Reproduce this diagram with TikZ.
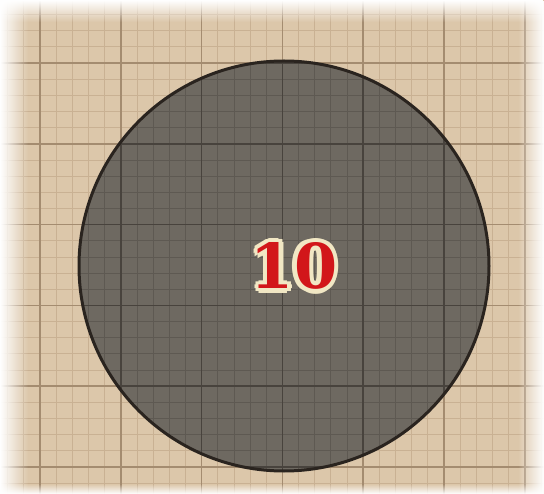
\documentclass[tikz,border=0pt]{standalone}
\usepackage{fontspec}
\newfontfamily\numfont{DejaVu Serif Bold}
\usetikzlibrary{fadings,calc}
\definecolor{paper}{HTML}{DCC7AA}
\definecolor{minorline}{HTML}{C9B193}
\definecolor{majorline}{HTML}{A48C70}
\definecolor{discfill}{HTML}{6E6961}
\definecolor{discminor}{HTML}{5E5952}
\definecolor{discmajor}{HTML}{48433D}
\definecolor{rimcol}{HTML}{2A241F}
\definecolor{numred}{HTML}{D2161A}
\definecolor{numcream}{HTML}{F1E7C4}
\tikzfading[name=fadeL, left color=transparent!0, right color=transparent!100]
\tikzfading[name=fadeR, left color=transparent!100, right color=transparent!0]
\tikzfading[name=fadeT, top color=transparent!0, bottom color=transparent!100]
\tikzfading[name=fadeB, top color=transparent!100, bottom color=transparent!0]
\tikzset{
  minorgrid/.style={draw=minorline, line width=0.8pt},
  majorgrid/.style={draw=majorline, line width=1.6pt},
  dminorgrid/.style={draw=discminor, line width=0.8pt},
  dmajorgrid/.style={draw=discmajor, line width=1.6pt},
  numtext/.style={font=\numfont\fontsize{62}{62}\selectfont, inner sep=0pt}
}
\begin{document}
\begin{tikzpicture}[x=1pt,y=-1pt]
\useasboundingbox (0,0) rectangle (544,494);
\fill[paper] (0,0) rectangle (544,494);
% minor grid
\foreach \i in {-10,...,35} {
  \draw[minorgrid] ({40+16.16*\i},0) -- ({40+16.16*\i},494);
  \draw[minorgrid] (0,{63+16.16*\i}) -- (544,{63+16.16*\i});
}
% major grid
\foreach \i in {-1,...,7} {
  \draw[majorgrid] ({40+80.8*\i},0) -- ({40+80.8*\i},494);
  \draw[majorgrid] (0,{63+80.8*\i}) -- (544,{63+80.8*\i});
}
% disc
\coordinate (c) at (284,266);
\fill[discfill] (c) circle[radius=205];
\begin{scope}
  \clip (c) circle[radius=205];
  \foreach \i in {-10,...,35} {
    \draw[dminorgrid] ({40+16.16*\i},0) -- ({40+16.16*\i},494);
    \draw[dminorgrid] (0,{63+16.16*\i}) -- (544,{63+16.16*\i});
  }
  \foreach \i in {-1,...,7} {
    \draw[dmajorgrid] ({40+80.8*\i},0) -- ({40+80.8*\i},494);
    \draw[dmajorgrid] (0,{63+80.8*\i}) -- (544,{63+80.8*\i});
  }
\end{scope}
\draw[rimcol, line width=3pt] (c) circle[radius=205];
% label with cream outline
\coordinate (lbl) at (294,266);
\foreach \a in {0,45,...,315} {
  \node[numtext, text=numcream] at ($(lbl)+(\a:4.5)$) {10};
}
\node[numtext, text=numred] (num) at (lbl) {10};
% faded paper edges
\fill[white, path fading=fadeL] (0,0) rectangle (28,494);
\fill[white, path fading=fadeR] (518,0) rectangle (544,494);
\fill[white, path fading=fadeT] (0,0) rectangle (544,22);
\fill[white, path fading=fadeB] (0,484) rectangle (544,494);
\end{tikzpicture}
\end{document}
